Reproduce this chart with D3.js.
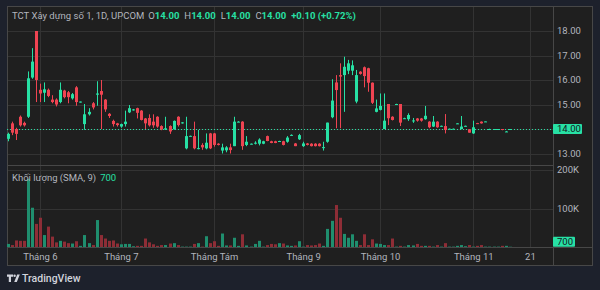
<!DOCTYPE html>
<html><head><meta charset="utf-8">
<script src="https://cdn.jsdelivr.net/npm/d3@7"></script>
<style>
html,body{margin:0;padding:0;background:#1d212c;}
svg{display:block;font-family:Roboto,"Noto Sans",sans-serif;}
</style>
</head><body>
<svg id="c" width="600" height="290"></svg>
<script>
// ---- data (daily bars, index 0 = first visible session) ----
const opens  = [13.6,14.23,14.0,14.5,14.25,14.5,16.1,18.0,15.6,15.48,15.6,15.2,15.2,15.1,15.57,15.5,15.25,15.7,15.1,14.2,14.6,15.05,15.4,15.55,15.2,14.62,14.33,14.23,14.1,14.2,14.68,14.78,14.85,14.75,14.43,14.45,14.3,14.5,14.12,13.98,14.12,13.99,14.5,14.25,13.21,13.71,13.71,13.2,13.35,13.21,13.82,13.82,13.4,13.12,13.13,13.25,13.3,14.3,14.3,13.35,13.38,13.42,13.4,13.4,13.71,13.5,13.5,13.5,13.5,13.48,13.74,13.41,13.58,13.3,13.41,13.4,13.4,13.4,13.22,13.48,14.48,15.9,16.2,16.2,16.38,16.38,15.12,16.34,16.52,16.48,15.89,14.7,14.78,14.0,15.02,14.5,15.0,15.02,14.43,14.4,14.33,14.43,14.43,14.4,14.3,14.1,14.3,14.12,14.12,14.0,14.0,14.22,14.0,14.12,13.99,13.82,14.24,14.3,14.3,14.0,14.0,14.0,14.0,13.9,14.0];
const highs  = [13.85,14.3,14.05,14.55,14.3,16.35,17.3,18.0,15.85,15.9,15.65,15.38,15.25,15.9,15.6,15.55,15.47,15.75,15.12,15.02,14.85,15.1,15.95,16.0,15.22,14.65,14.38,14.25,14.22,14.75,14.98,14.82,14.87,14.77,14.45,14.6,14.6,14.52,14.15,14.5,14.15,14.35,14.52,14.28,14.5,13.73,14.3,13.96,13.42,13.82,13.84,13.84,13.42,13.4,13.3,13.4,14.5,14.32,14.32,13.71,13.41,13.5,13.62,13.52,13.73,13.52,13.52,13.52,13.52,13.71,13.78,13.43,13.8,13.48,13.43,13.42,13.42,13.42,13.48,14.26,16.03,16.2,16.68,16.95,16.82,16.8,16.41,16.36,16.55,16.5,15.9,15.2,15.45,15.45,15.02,14.52,15.03,15.02,14.46,14.64,14.45,14.45,14.45,14.94,14.32,14.53,14.32,14.14,14.61,14.02,14.02,14.24,14.53,14.14,14.0,14.34,14.25,14.31,14.32,14.01,14.0,14.0,14.0,13.92,14.0];
const lows   = [13.5,13.75,13.55,14.1,14.1,14.45,16.05,15.1,15.1,15.1,15.3,15.05,14.92,15.05,15.25,15.05,15.2,14.95,15.08,13.97,14.55,14.8,14.95,14.0,14.7,14.45,14.1,14.1,14.05,14.1,14.65,14.75,14.43,14.35,14.0,14.1,14.05,14.05,13.95,13.96,13.8,13.97,14.1,14.22,13.17,13.69,13.17,13.17,13.15,13.17,13.18,13.28,13.33,13.0,13.05,13.0,13.3,14.28,13.15,13.3,13.37,13.37,13.33,13.38,13.5,13.42,13.42,13.48,13.33,13.44,13.72,13.3,13.55,13.27,13.33,13.29,13.29,13.29,13.12,13.44,14.44,14.03,14.03,14.7,16.24,16.2,15.05,16.22,15.7,15.52,15.02,14.68,14.76,14.0,14.16,14.35,14.99,14.12,14.42,14.33,14.25,14.3,14.3,14.38,14.03,14.08,14.05,14.1,13.82,13.99,13.99,14.21,13.99,14.1,13.85,13.8,14.22,14.22,14.3,14.0,14.0,14.0,13.95,13.88,14.0];
const closes = [13.8,13.85,13.8,14.15,14.15,16.07,16.75,16.0,15.45,15.62,15.35,15.1,15.0,15.6,15.3,15.3,15.42,15.1,15.12,14.6,14.7,14.88,15.45,15.4,14.8,14.53,14.2,14.16,14.2,14.3,14.85,14.8,14.66,14.37,14.23,14.15,14.15,14.1,13.98,14.03,13.9,14.33,14.16,14.27,13.71,13.72,13.21,13.22,13.25,13.44,13.21,13.35,13.35,13.25,13.25,13.14,14.3,14.3,13.3,13.48,13.4,13.44,13.57,13.5,13.51,13.43,13.43,13.51,13.35,13.65,13.76,13.3,13.75,13.41,13.35,13.3,13.3,13.3,13.26,14.26,15.16,15.59,16.14,16.54,16.68,16.6,16.2,16.25,16.16,15.89,15.07,14.84,14.94,14.34,14.44,14.37,15.02,14.26,14.44,14.57,14.35,14.34,14.34,14.54,14.07,14.3,14.07,14.13,13.96,14.01,14.01,14.23,14.1,14.13,13.85,14.07,14.23,14.23,14.31,14.0,14.0,14.0,13.96,13.9,14.0];
const volumes = [8000,5000,17000,16000,16000,177000,102000,60000,76000,31000,53000,27000,12000,16000,14000,10000,9000,15000,3000,31000,10000,5000,70000,31000,22000,16000,17000,9000,7000,8000,8000,2000,3000,3000,22000,12000,7000,3000,5000,5000,9000,10000,5000,1000,1000,1000,8000,10000,1000,28000,10000,15000,3000,35000,4000,4000,24000,3000,33000,4000,1000,8000,16000,1000,5000,8000,7000,10000,9000,4000,3000,4000,15000,1000,5000,4000,5000,9000,3000,47000,68000,109000,76000,34000,24000,33000,16000,5000,33000,5000,20000,9000,8000,5000,5000,22000,1000,3000,1000,5000,4000,8000,3000,3000,3000,1000,5000,1000,10000,1000,1000,3000,5000,2000,5000,1000,3000,5000,1000,1000,1000,1000,3000,3000,700];
const timeTickIdx    = [8,28,51,73,92,115,129];
const timeTickLabels = ["Tháng 6","Tháng 7","Tháng Tám","Tháng 9","Tháng 10","Tháng 11","21"];
const priceTicks = [13,14,15,16,17,18];
const volTicks   = [100000,200000];
const symbolTitle = "TCT Xây dựng số 1, 1D, UPCOM";
const volTitle = "Khối lượng (SMA, 9)";
const lastOHLC = {O:"14.00",H:"14.00",L:"14.00",C:"14.00"};
const lastChange = "+0.10 (+0.72%)";

// ---- style ----
const UP="#27e0a4", DOWN="#ef4452", VUP="#1f8e6e", VDOWN="#8e2d36";
const BG="#1f1f1f", GRID="#333333", BORDER="#474747", TXT="#b2b5be";

const svg=d3.select("#c");
const L=7, R=593, AX=553, T=6, B=266;
const priceTop=T, priceBot=165, volTop=165, volBot=247;

svg.append("rect").attr("x",L).attr("y",T).attr("width",R-L).attr("height",B-T).attr("fill",BG);

const x=d3.scaleLinear().domain([0,130]).range([7.5,7.5+130*4.05]);
const yP=d3.scaleLinear().domain([14,18]).range([129,31]);
const yV=d3.scaleLinear().domain([0,100000]).range([volBot,208.5]);

const g=svg.append("g");
// vertical grid
g.selectAll(".vg").data(timeTickIdx).join("line")
 .attr("x1",d=>Math.round(x(d))+0.5).attr("x2",d=>Math.round(x(d))+0.5)
 .attr("y1",T).attr("y2",volBot).attr("stroke",GRID);
// price grid
g.selectAll(".pg").data(priceTicks).join("line")
 .attr("x1",L).attr("x2",AX).attr("y1",d=>Math.round(yP(d))+0.5).attr("y2",d=>Math.round(yP(d))+0.5).attr("stroke",GRID);
// volume grid
g.selectAll(".vgl").data(volTicks).join("line")
 .attr("x1",L).attr("x2",AX).attr("y1",d=>Math.round(yV(d))+0.5).attr("y2",d=>Math.round(yV(d))+0.5).attr("stroke",GRID);

// borders / separators
svg.append("line").attr("x1",L).attr("x2",AX).attr("y1",volTop+0.5).attr("y2",volTop+0.5).attr("stroke",BORDER);
svg.append("line").attr("x1",L).attr("x2",R).attr("y1",volBot+0.5).attr("y2",volBot+0.5).attr("stroke",BORDER);
svg.append("line").attr("x1",AX+0.5).attr("x2",AX+0.5).attr("y1",T).attr("y2",B).attr("stroke",BORDER);
svg.append("rect").attr("x",L+0.5).attr("y",T+0.5).attr("width",R-L-1).attr("height",B-T-1).attr("fill","none").attr("stroke",BORDER);

const idx=d3.range(closes.length);
const up=i=>closes[i]>=opens[i];

// volume bars
const clipV=svg.append("clipPath").attr("id","cv").append("rect").attr("x",L).attr("y",volTop).attr("width",AX-L).attr("height",volBot-volTop);
svg.append("g").attr("clip-path","url(#cv)").selectAll("rect").data(idx).join("rect")
 .attr("x",i=>Math.round(x(i))-1).attr("width",3)
 .attr("y",i=>yV(volumes[i])).attr("height",i=>Math.max(0.8,volBot-yV(volumes[i])))
 .attr("fill",i=>up(i)?VUP:VDOWN);

// last price dotted line
svg.append("line").attr("x1",L).attr("x2",AX).attr("y1",Math.round(yP(+lastOHLC.C))+0.5).attr("y2",Math.round(yP(+lastOHLC.C))+0.5)
 .attr("stroke",UP).attr("stroke-dasharray","1,2").attr("stroke-width",1);

// candles
svg.append("clipPath").attr("id","cp").append("rect").attr("x",L).attr("y",priceTop).attr("width",AX-L).attr("height",priceBot-priceTop);
const cg=svg.append("g").attr("clip-path","url(#cp)");
cg.selectAll("line").data(idx).join("line")
 .attr("x1",i=>Math.round(x(i))+0.5).attr("x2",i=>Math.round(x(i))+0.5)
 .attr("y1",i=>yP(highs[i])).attr("y2",i=>yP(lows[i]))
 .attr("stroke",i=>up(i)?UP:DOWN);
cg.selectAll("rect").data(idx).join("rect")
 .attr("x",i=>Math.round(x(i))-1).attr("width",3)
 .attr("y",i=>Math.min(yP(opens[i]),yP(closes[i])))
 .attr("height",i=>Math.max(1,Math.abs(yP(opens[i])-yP(closes[i]))))
 .attr("fill",i=>up(i)?UP:DOWN);

// price axis labels
svg.selectAll(".pl").data(priceTicks).join("text")
 .attr("x",557).attr("y",d=>yP(d)).attr("dy","0.35em")
 .attr("fill",TXT).attr("font-size",9.5).text(d=>d3.format(".2f")(d));
svg.selectAll(".vl").data(volTicks).join("text")
 .attr("x",557).attr("y",d=>yV(d)).attr("dy","0.35em")
 .attr("fill",TXT).attr("font-size",9.5).text(d=>d3.format("d")(d/1000)+"K");

// badges
const py=yP(+lastOHLC.C);
svg.append("rect").attr("x",AX).attr("y",py-5).attr("width",29).attr("height",10).attr("fill",UP).attr("rx",1);
svg.append("text").attr("x",557).attr("y",py).attr("dy","0.35em").attr("font-size",9.5).attr("fill","#131722").text(lastOHLC.C);
const vy=yV(volumes[volumes.length-1]);
svg.append("rect").attr("x",AX).attr("y",vy-10).attr("width",22).attr("height",10).attr("fill",UP).attr("rx",1);
svg.append("text").attr("x",557).attr("y",vy-5).attr("dy","0.35em").attr("font-size",9.5).attr("fill","#131722").text(d3.format("d")(volumes[volumes.length-1]));

// time axis labels
svg.selectAll(".tl").data(timeTickIdx).join("text")
 .attr("x",d=>x(d)+0.5).attr("y",257).attr("dy","0.35em").attr("text-anchor","middle")
 .attr("fill",TXT).attr("font-size",9.5).text((d,k)=>timeTickLabels[k]);

// header
const h=svg.append("text").attr("x",12).attr("y",16).attr("dy","0.35em").attr("font-size",9.5).attr("fill",TXT);
h.append("tspan").text(symbolTitle);
["O","H","L","C"].forEach((k,j)=>{
  h.append("tspan").attr("dx",j===0?4:5).text(k);
  h.append("tspan").attr("fill",UP).attr("font-weight","bold").text(lastOHLC[k]);
});
h.append("tspan").attr("dx",5).attr("fill",UP).attr("font-weight","bold").text(lastChange);

// volume title
const vt=svg.append("text").attr("x",12).attr("y",178).attr("dy","0.35em").attr("font-size",9.5).attr("fill",TXT);
vt.append("tspan").text(volTitle);
vt.append("tspan").attr("dx",4).attr("fill",UP).text(d3.format("d")(volumes[volumes.length-1]));

// TradingView logo
const lg=svg.append("g").attr("fill","#d1d4dc");
lg.append("path").attr("d","M7 274.5h6v2.2h-2v5.3h-2.2v-5.3H7z");
lg.append("circle").attr("cx",14.6).attr("cy",275.7).attr("r",1.2);
lg.append("path").attr("d","M17.2 274.5h2.6l-3 7.5h-2.6z");
svg.append("text").attr("x",22).attr("y",278.3).attr("dy","0.35em").attr("font-size",10.5).attr("font-weight",500).attr("fill","#d1d4dc").text("TradingView");
</script>
</body></html>
